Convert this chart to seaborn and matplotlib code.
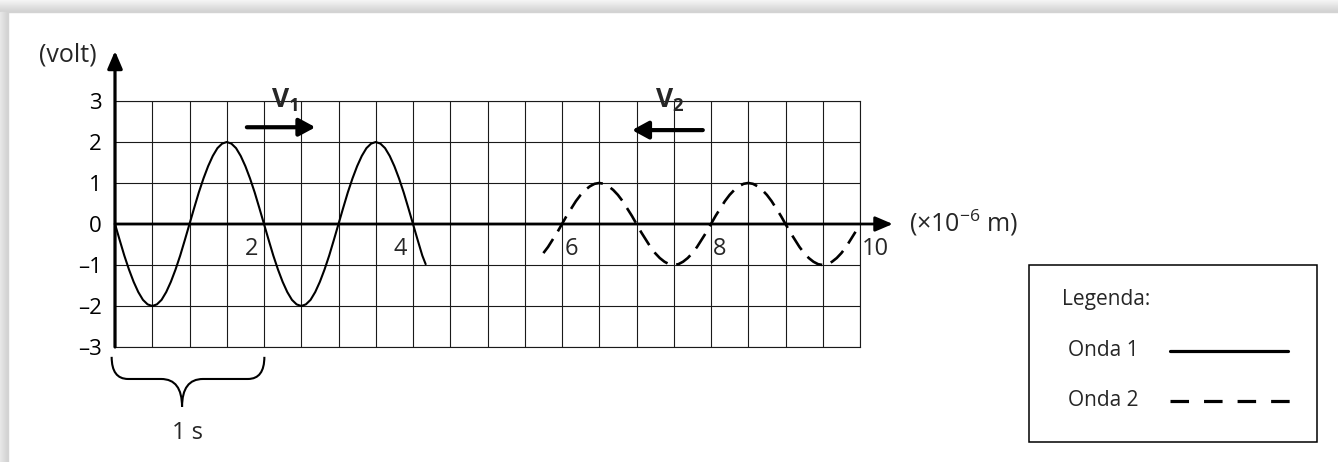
import numpy as np
import matplotlib
matplotlib.use("Agg")
import matplotlib.pyplot as plt
from matplotlib.patches import Rectangle, PathPatch
from matplotlib.path import Path
from matplotlib.lines import Line2D
import seaborn as sns

# wave 1 (solid), every 1/16 unit
wave1_x = [0, 0.0625, 0.125, 0.1875, 0.25, 0.3125, 0.375, 0.4375, 0.5, 0.5625, 0.625,
           0.6875, 0.75, 0.8125, 0.875, 0.9375, 1.0, 1.0625, 1.125, 1.1875, 1.25, 1.3125,
           1.375, 1.4375, 1.5, 1.5625, 1.625, 1.6875, 1.75, 1.8125, 1.875, 1.9375, 2.0,
           2.0625, 2.125, 2.1875, 2.25, 2.3125, 2.375, 2.4375, 2.5, 2.5625, 2.625, 2.6875,
           2.75, 2.8125, 2.875, 2.9375, 3.0, 3.0625, 3.125, 3.1875, 3.25, 3.3125, 3.375,
           3.4375, 3.5, 3.5625, 3.625, 3.6875, 3.75, 3.8125, 3.875, 3.9375, 4.0, 4.0625,
           4.125, 4.17]
wave1_y = [0, -0.39, -0.77, -1.11, -1.41, -1.66, -1.85, -1.96, -2, -1.96, -1.85,
           -1.66, -1.41, -1.11, -0.77, -0.39, 0, 0.39, 0.77, 1.11, 1.41, 1.66,
           1.85, 1.96, 2, 1.96, 1.85, 1.66, 1.41, 1.11, 0.77, 0.39, 0,
           -0.39, -0.77, -1.11, -1.41, -1.66, -1.85, -1.96, -2, -1.96, -1.85, -1.66,
           -1.41, -1.11, -0.77, -0.39, 0, 0.39, 0.77, 1.11, 1.41, 1.66, 1.85,
           1.96, 2, 1.96, 1.85, 1.66, 1.41, 1.11, 0.77, 0.39, 0, -0.39,
           -0.77, -0.98]

# wave 2 (dashed)
wave2_x = [5.75, 5.8125, 5.875, 5.9375, 6.0, 6.0625, 6.125, 6.1875, 6.25, 6.3125, 6.375,
           6.4375, 6.5, 6.5625, 6.625, 6.6875, 6.75, 6.8125, 6.875, 6.9375, 7.0, 7.0625,
           7.125, 7.1875, 7.25, 7.3125, 7.375, 7.4375, 7.5, 7.5625, 7.625, 7.6875, 7.75,
           7.8125, 7.875, 7.9375, 8.0, 8.0625, 8.125, 8.1875, 8.25, 8.3125, 8.375, 8.4375,
           8.5, 8.5625, 8.625, 8.6875, 8.75, 8.8125, 8.875, 8.9375, 9.0, 9.0625, 9.125,
           9.1875, 9.25, 9.3125, 9.375, 9.4375, 9.5, 9.5625, 9.625, 9.6875, 9.75, 9.8125,
           9.875, 9.94]
wave2_y = [-0.71, -0.56, -0.38, -0.2, 0, 0.2, 0.38, 0.56, 0.71, 0.83, 0.92,
           0.98, 1, 0.98, 0.92, 0.83, 0.71, 0.56, 0.38, 0.2, 0, -0.2,
           -0.38, -0.56, -0.71, -0.83, -0.92, -0.98, -1, -0.98, -0.92, -0.83, -0.71,
           -0.56, -0.38, -0.2, 0, 0.2, 0.38, 0.56, 0.71, 0.83, 0.92, 0.98,
           1, 0.98, 0.92, 0.83, 0.71, 0.56, 0.38, 0.2, 0, -0.2, -0.38,
           -0.56, -0.71, -0.83, -0.92, -0.98, -1, -0.98, -0.92, -0.83, -0.71, -0.56,
           -0.38, -0.19]

y_ticks = [-3, -2, -1, 0, 1, 2, 3]
y_labels = ["\u20133", "\u20132", "\u20131", "0", "1", "2", "3"]
x_labels = [2, 4, 6, 8, 10]
legend_labels = ["Onda 1", "Onda 2"]

sns.set_style("white")
plt.rcParams["font.family"] = ["Open Sans", "DejaVu Sans"]
plt.rcParams["mathtext.fontset"] = "custom"
plt.rcParams["mathtext.rm"] = "Open Sans"
plt.rcParams["mathtext.bf"] = "Open Sans:bold"

W, H = 1338, 462
fig = plt.figure(figsize=(W / 100, H / 100), dpi=100)
fig.patch.set_facecolor("white")


def fx(px):
    return px / W


def fy(py):
    return 1 - py / H


# page shadow on top / left
for i in range(12):
    c = 0.96 - 0.012 * i
    fig.patches.append(Rectangle((0, fy(i + 1)), 1, 1 / H, transform=fig.transFigure,
                                 color=(c, c, c), zorder=0))
for i in range(8):
    c = 0.91 - 0.012 * i
    fig.patches.append(Rectangle((fx(i), 0), 1 / W, fy(12), transform=fig.transFigure,
                                 color=(c, c, c), zorder=0))

# grid area: x 0..10 -> px 115..860, y -3..3 -> px 347..101
ax = fig.add_axes([fx(115), fy(347), fx(860) - fx(115), fy(101) - fy(347)])
ax.set_xlim(0, 10)
ax.set_ylim(-3, 3)
ax.set_facecolor("none")

ax.set_xticks(np.arange(0, 10.01, 0.5))
ax.set_xticklabels([])
ax.tick_params(axis="x", length=0)
ax.set_yticks(y_ticks)
ax.set_yticklabels(y_labels, fontsize=16)
ax.tick_params(axis="y", direction="out", length=8.5, width=1.6, pad=1.0, colors="black")
ax.get_yticklines()[6].set_visible(False)  # no tick at 0
ax.grid(True, color="#1a1a1a", lw=0.8)
for s in ["top", "right", "bottom"]:
    ax.spines[s].set_color("#1a1a1a")
    ax.spines[s].set_linewidth(0.8)
ax.spines["left"].set_visible(False)

# waves
sns.lineplot(x=wave1_x, y=wave1_y, ax=ax, color="black", lw=1.5, sort=False,
             estimator=None, clip_on=False, zorder=5)
sns.lineplot(x=wave2_x, y=wave2_y, ax=ax, color="black", lw=1.9, sort=False,
             estimator=None, clip_on=False, zorder=5, linestyle=(0, (6.5, 3.4)))

arrow_axis = dict(arrowstyle="-|>,head_length=0.75,head_width=0.32", color="black",
                  lw=2.3, shrinkA=0, shrinkB=0, mutation_scale=14)
# axes with arrows
ax.annotate("", xy=(0, 4.22), xytext=(0, -3), arrowprops=arrow_axis,
            annotation_clip=False, zorder=6)
ax.annotate("", xy=(10.44, 0), xytext=(0, 0), arrowprops=dict(arrow_axis, lw=2.0),
            annotation_clip=False, zorder=6)

ax.text(-0.24, 4.12, "(volt)", fontsize=18, ha="right", va="center")
ax.text(10.66, 0.02, "(\u00d710$^{-6}$ m)", fontsize=18, ha="left", va="center")

# x labels next to the grid lines
for v in x_labels:
    if v < 5:
        ax.text(v - 0.08, -0.6, str(v), fontsize=17, ha="right", va="center")
    else:
        ax.text(v + 0.03, -0.6, str(v), fontsize=17, ha="left", va="center")

# velocity labels and arrows
arrow_v = dict(arrowstyle="-|>,head_length=0.7,head_width=0.38", color="black",
               lw=3.0, shrinkA=0, shrinkB=0, mutation_scale=14)
ax.text(2.27, 3.02, r"$\mathbf{V}_\mathbf{1}$", fontsize=19, ha="center", va="center")
ax.annotate("", xy=(2.69, 2.36), xytext=(1.77, 2.36), arrowprops=arrow_v,
            annotation_clip=False)
ax.text(7.44, 3.02, r"$\mathbf{V}_\mathbf{2}$", fontsize=19, ha="center", va="center")
ax.annotate("", xy=(6.94, 2.29), xytext=(7.89, 2.29), arrowprops=arrow_v,
            annotation_clip=False)

# brace under the first 2 units
x0, x1, xt = -0.045, 2.005, 0.9
ytop, yh, ytip = -3.24, -3.78, -4.46
verts = [(x0, ytop), (x0, yh), (x0 + 0.22, yh), (xt - 0.28, yh), (xt, yh), (xt, ytip),
         (xt, yh), (xt + 0.28, yh), (x1 - 0.22, yh), (x1, yh), (x1, ytop)]
codes = [Path.MOVETO, Path.CURVE3, Path.CURVE3, Path.LINETO, Path.CURVE3, Path.CURVE3,
         Path.CURVE3, Path.CURVE3, Path.LINETO, Path.CURVE3, Path.CURVE3]
ax.add_patch(PathPatch(Path(verts, codes), fill=False, lw=1.5, color="black",
                       clip_on=False))
ax.text(0.97, -5.1, "1 s", fontsize=17, ha="center", va="center")

# legend box
fig.patches.append(Rectangle((fx(1029), fy(442)), fx(1317) - fx(1029), fy(265) - fy(442),
                             transform=fig.transFigure, fill=False, ec="black", lw=1.1))
fig.text(fx(1062), fy(300), "Legenda:", fontsize=15, ha="left", va="center")
fig.text(fx(1068), fy(351), legend_labels[0], fontsize=15, ha="left", va="center")
fig.text(fx(1068), fy(401), legend_labels[1], fontsize=15, ha="left", va="center")
fig.add_artist(Line2D([fx(1170), fx(1288)], [fy(351), fy(351)], color="black", lw=2.3,
                      transform=fig.transFigure))
fig.add_artist(Line2D([fx(1170), fx(1291)], [fy(401), fy(401)], color="black", lw=2.3,
                      linestyle=(0, (5.8, 4.7)), transform=fig.transFigure))

fig.savefig("out.png", dpi=100)
